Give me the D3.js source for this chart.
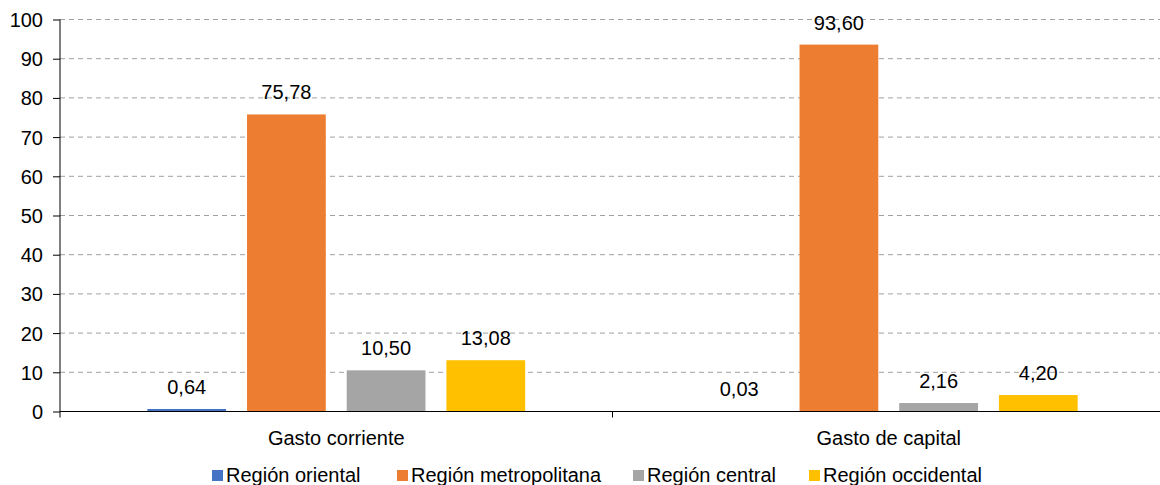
<!DOCTYPE html>
<html>
<head>
<meta charset="utf-8">
<script src="https://cdn.jsdelivr.net/npm/d3@7"></script>
<style>
  body { margin: 0; background: #fff; }
  text { font-family: "Liberation Sans", Arial, sans-serif; fill: #000; }
</style>
</head>
<body>
<div id="chart"></div>
<script>
const categories = ['Gasto corriente', 'Gasto de capital'];
const series = ['Región oriental', 'Región metropolitana', 'Región central', 'Región occidental'];
const oriental = [0.64, 0.03];
const metropolitana = [75.78, 93.60];
const central = [10.50, 2.16];
const occidental = [13.08, 4.20];
const yTicks = [0, 10, 20, 30, 40, 50, 60, 70, 80, 90, 100];

const colors = ['#4472C4', '#ED7D31', '#A5A5A5', '#FFC000'];
const values = [oriental, metropolitana, central, occidental];

const width = 1160;
const height = 485;
const margin = {top: 19.5, right: -5, bottom: 73.5, left: 60};
const fontSize = '20px';

const svg = d3.select('#chart').append('svg')
    .attr('width', width)
    .attr('height', height);

const x0 = d3.scaleBand()
    .domain(categories)
    .range([margin.left, width - margin.right])
    .padding(0);

const x1 = d3.scaleBand()
    .domain(series)
    .range([0, x0.bandwidth()])
    .paddingInner(0.21)
    .paddingOuter(0.876);

const y = d3.scaleLinear()
    .domain([0, 100])
    .range([height - margin.bottom, margin.top]);

const fmt = v => d3.format('.2f')(v).replace('.', ',');

// gridlines
svg.append('g')
  .selectAll('line')
  .data(yTicks.filter(d => d > 0))
  .join('line')
    .attr('x1', margin.left)
    .attr('x2', width)
    .attr('y1', d => y(d))
    .attr('y2', d => y(d))
    .attr('stroke', '#a0a0a0')
    .attr('stroke-width', 1)
    .attr('stroke-dasharray', '5,4');

// bars
const rows = [];
categories.forEach((c, i) => {
    series.forEach((s, j) => rows.push({cat: c, ser: s, val: values[j][i], color: colors[j]}));
});

svg.append('g')
  .selectAll('rect')
  .data(rows)
  .join('rect')
    .attr('x', d => x0(d.cat) + x1(d.ser))
    .attr('y', d => y(d.val))
    .attr('width', x1.bandwidth())
    .attr('height', d => y(0) - y(d.val))
    .attr('fill', d => d.color);

svg.append('g')
  .selectAll('text')
  .data(rows)
  .join('text')
    .attr('x', d => x0(d.cat) + x1(d.ser) + x1.bandwidth() / 2)
    .attr('y', d => y(d.val) - 15)
    .attr('text-anchor', 'middle')
    .style('font-size', fontSize)
    .text(d => fmt(d.val));

// y axis
const yAxis = svg.append('g')
    .attr('transform', `translate(${margin.left},0)`)
    .call(d3.axisLeft(y).tickValues(yTicks).tickSize(7).tickSizeOuter(0).tickPadding(10));
yAxis.select('.domain').attr('stroke', '#000').attr('d', `M0,${y(100)}V${y(0) + 6}`);
yAxis.selectAll('.tick line').attr('stroke', '#000');
yAxis.selectAll('.tick text').style('font-size', fontSize).attr('dy', '0.35em');

// x axis
const xAxis = svg.append('g')
    .attr('transform', `translate(0,${y(0)})`);
xAxis.append('line')
    .attr('x1', margin.left).attr('x2', width)
    .attr('y1', 0).attr('y2', 0)
    .attr('stroke', '#000').attr('stroke-width', 1.2);
xAxis.selectAll('.sep')
  .data(categories.slice(1))
  .join('line')
    .attr('class', 'sep')
    .attr('x1', d => x0(d)).attr('x2', d => x0(d))
    .attr('y1', 0).attr('y2', 6)
    .attr('stroke', '#000');
xAxis.selectAll('.cat')
  .data(categories)
  .join('text')
    .attr('class', 'cat')
    .attr('x', d => x0(d) + x0.bandwidth() / 2)
    .attr('y', 33)
    .attr('text-anchor', 'middle')
    .style('font-size', fontSize)
    .text(d => d);

// legend
const legendX = [212, 397, 633, 809];
const legend = svg.append('g');
const item = legend.selectAll('g')
  .data(series)
  .join('g')
    .attr('transform', (d, i) => `translate(${legendX[i]},470)`);
item.append('rect')
    .attr('width', 11).attr('height', 11)
    .attr('fill', (d, i) => colors[i]);
item.append('text')
    .attr('x', 14).attr('y', 11.5)
    .style('font-size', fontSize)
    .text(d => d);
</script>
</body>
</html>
